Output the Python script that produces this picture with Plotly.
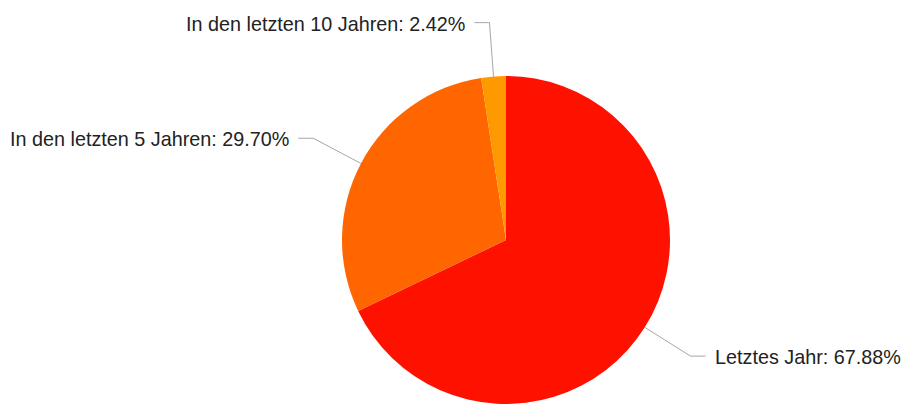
import math
import plotly.graph_objects as go

# Slice data
labels = ["Letztes Jahr", "In den letzten 5 Jahren", "In den letzten 10 Jahren"]
values = [67.88, 29.70, 2.42]
colors = ["#FF1100", "#FF6600", "#FF9900"]

W, H = 907, 405
cx, cy, R = 506, 240, 164          # pie centre and radius in pixels
leader_out = 54                    # radial length of the leader line
leader_h = 15                      # horizontal tail of the leader line
label_gap = 7

fig = go.Figure(go.Pie(
    labels=labels,
    values=values,
    sort=False,
    direction="clockwise",
    rotation=0,
    marker=dict(colors=colors, line=dict(width=0)),
    textinfo="none",
    hoverinfo="label+percent",
    showlegend=False,
    domain=dict(x=[(cx - R) / W, (cx + R) / W],
                y=[(H - cy - R) / H, (H - cy + R) / H]),
))

def px(x):
    return x / W

def py(y):
    return 1 - y / H

total = sum(values)
shapes, annotations = [], []
start = 0.0
for lab, val in zip(labels, values):
    frac = val / total
    mid = (start + frac / 2) * 2 * math.pi   # clockwise from 12 o'clock
    start += frac
    dx, dy = math.sin(mid), -math.cos(mid)
    x0, y0 = cx + R * dx, cy + R * dy
    x1, y1 = cx + (R + leader_out) * dx, cy + (R + leader_out) * dy
    side = 1 if dx >= 0 else -1
    x2 = x1 + side * leader_h
    line = dict(color="#a6a6a6", width=1)
    shapes.append(dict(type="line", xref="paper", yref="paper",
                       x0=px(x0), y0=py(y0), x1=px(x1), y1=py(y1), line=line))
    shapes.append(dict(type="line", xref="paper", yref="paper",
                       x0=px(x1), y0=py(y1), x1=px(x2), y1=py(y1), line=line))
    annotations.append(dict(
        xref="paper", yref="paper",
        x=px(x2 + side * label_gap), y=py(y1 + 1),
        xanchor="left" if side > 0 else "right", yanchor="middle",
        text=f"{lab}: {val:.2f}%", showarrow=False,
        font=dict(family="Liberation Sans, Arial, sans-serif", size=19.8, color="#222222"),
    ))

fig.update_layout(
    width=W, height=H,
    margin=dict(l=0, r=0, t=0, b=0),
    paper_bgcolor="white",
    plot_bgcolor="white",
    shapes=shapes,
    annotations=annotations,
)

fig.write_html("out.html")
